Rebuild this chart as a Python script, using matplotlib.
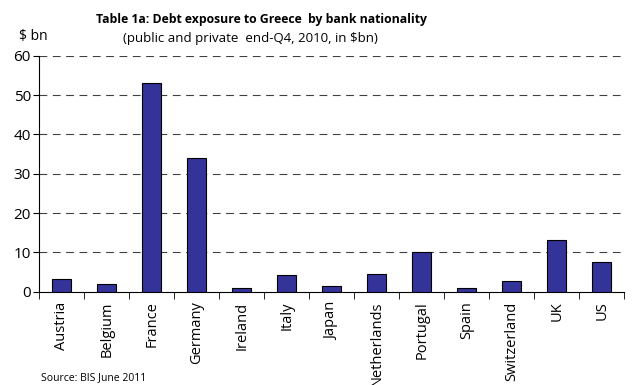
import matplotlib
matplotlib.use("Agg")
import matplotlib.pyplot as plt
import numpy as np

plt.rcParams['font.family'] = ['Open Sans', 'DejaVu Sans']

countries = ['Austria', 'Belgium', 'France', 'Germany', 'Ireland', 'Italy', 'Japan',
             'Netherlands', 'Portugal', 'Spain', 'Switzerland', 'UK', 'US']
exposure = [3.2, 1.9, 53.0, 34.0, 0.9, 4.2, 1.4, 4.5, 10.2, 1.1, 2.8, 13.3, 7.5]

index = np.arange(len(countries))

fig = plt.figure(figsize=(6.32, 3.85), dpi=100)
ax = fig.add_axes([0.062, 0.242, 0.926, 0.613])

ax.bar(index, exposure, width=0.42, color='#333399', edgecolor='black', linewidth=0.8, zorder=3)

ax.set_xlim(-0.5, len(countries) - 0.5)
ax.set_ylim(0, 60)
ax.set_yticks(range(0, 61, 10))
ax.tick_params(axis='y', labelsize=11, length=4, direction='out', pad=2)

# category labels at the centres, ticks at the boundaries
ax.set_xticks(index)
ax.set_xticklabels(countries, rotation=90, fontsize=10.5)
ax.tick_params(axis='x', which='major', length=0, pad=7)
ax.set_xticks(np.arange(-0.5, len(countries), 1), minor=True)
ax.tick_params(axis='x', which='minor', length=5, direction='out')

for y in range(10, 61, 10):
    ax.axhline(y, color='black', linestyle=(0, (7, 5)), linewidth=0.8, alpha=0.75, zorder=1)

ax.spines['top'].set_visible(False)
ax.spines['right'].set_visible(False)
ax.spines['left'].set_linewidth(0.8)
ax.spines['bottom'].set_linewidth(0.8)

fig.text(0.413, 0.95, 'Table 1a: Debt exposure to Greece  by bank nationality',
         ha='center', va='center', fontsize=8.8, fontweight='bold')
fig.text(0.396, 0.899, '(public and private  end-Q4, 2010, in $bn)',
         ha='center', va='center', fontsize=9.5)
fig.text(0.03, 0.905, '$ bn', ha='left', va='center', fontsize=10)
fig.text(0.065, 0.02, 'Source: BIS June 2011', ha='left', va='center', fontsize=7.5)

plt.savefig('out.png', dpi=100)
